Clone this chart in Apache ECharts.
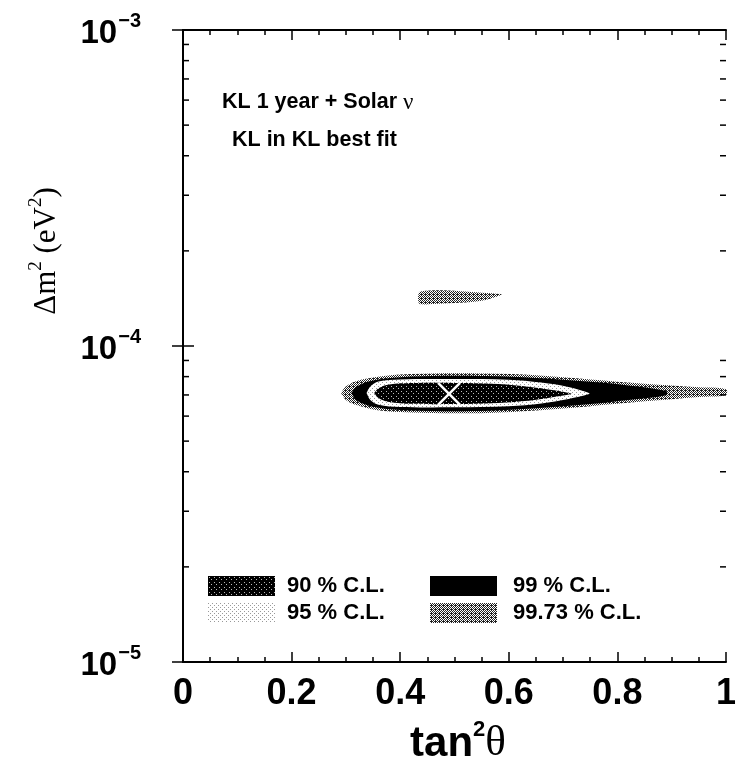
<!DOCTYPE html>
<html>
<head>
<meta charset="utf-8">
<title>KL 1 year + Solar nu</title>
<script src="https://cdn.jsdelivr.net/npm/echarts@6/dist/echarts.min.js"></script>
<style>
  html, body { margin: 0; padding: 0; background: #fff; }
  #chart { width: 739px; height: 767px; }
</style>
</head>
<body>
<div id="chart"></div>
<script>
// tick values
var xTickLabels = ['0', '0.2', '0.4', '0.6', '0.8', '1'];
var yMinorTicks = [2e-5, 3e-5, 4e-5, 5e-5, 6e-5, 7e-5, 8e-5, 9e-5,
                   2e-4, 3e-4, 4e-4, 5e-4, 6e-4, 7e-4, 8e-4, 9e-4];

// contour boundaries : tan^2(theta), upper dm2, lower dm2
var cl9973Tan = [0.291, 0.30, 0.32, 0.35, 0.40, 0.48, 0.56, 0.65, 0.75, 0.85, 0.95, 1.0];
var cl9973Up  = [7.10e-5, 7.45e-5, 7.75e-5, 7.95e-5, 8.12e-5, 8.20e-5, 8.18e-5, 8.08e-5, 7.84e-5, 7.60e-5, 7.40e-5, 7.30e-5];
var cl9973Lo  = [7.10e-5, 6.75e-5, 6.50e-5, 6.30e-5, 6.18e-5, 6.13e-5, 6.14e-5, 6.25e-5, 6.45e-5, 6.68e-5, 6.90e-5, 7.00e-5];

var cl99Tan = [0.31, 0.32, 0.35, 0.40, 0.48, 0.56, 0.65, 0.75, 0.82, 0.89];
var cl99Up  = [7.10e-5, 7.45e-5, 7.78e-5, 7.97e-5, 8.05e-5, 8.03e-5, 7.92e-5, 7.70e-5, 7.50e-5, 7.20e-5];
var cl99Lo  = [7.10e-5, 6.72e-5, 6.42e-5, 6.27e-5, 6.22e-5, 6.24e-5, 6.35e-5, 6.55e-5, 6.75e-5, 6.98e-5];

var cl95Tan = [0.338, 0.345, 0.36, 0.40, 0.50, 0.60, 0.66, 0.71, 0.748];
var cl95Up  = [7.10e-5, 7.45e-5, 7.72e-5, 7.84e-5, 7.86e-5, 7.82e-5, 7.66e-5, 7.42e-5, 7.10e-5];
var cl95Lo  = [7.10e-5, 6.75e-5, 6.52e-5, 6.41e-5, 6.40e-5, 6.45e-5, 6.58e-5, 6.80e-5, 7.05e-5];

var cl90Tan = [0.352, 0.36, 0.38, 0.42, 0.50, 0.58, 0.64, 0.68, 0.715];
var cl90Up  = [7.10e-5, 7.35e-5, 7.55e-5, 7.63e-5, 7.64e-5, 7.58e-5, 7.42e-5, 7.26e-5, 7.08e-5];
var cl90Lo  = [7.10e-5, 6.85e-5, 6.65e-5, 6.56e-5, 6.55e-5, 6.60e-5, 6.72e-5, 6.88e-5, 7.05e-5];

// small 99.73 % island at higher dm2
var islandTan = [0.434, 0.44, 0.47, 0.51, 0.55, 0.586];
var islandUp  = [1.47e-4, 1.49e-4, 1.50e-4, 1.49e-4, 1.475e-4, 1.46e-4];
var islandLo  = [1.37e-4, 1.355e-4, 1.36e-4, 1.37e-4, 1.39e-4, 1.45e-4];

var bestFit = [0.49, 7.05e-5];

var sans = '"Liberation Sans", Arial, Helvetica, sans-serif';
var serif = '"Liberation Serif", "Times New Roman", serif';

// halftone textures like the printed figure
function makePattern(size, bg, fg, dots) {
  var c = document.createElement('canvas');
  c.width = size; c.height = size;
  var ctx = c.getContext('2d');
  ctx.fillStyle = bg;
  ctx.fillRect(0, 0, size, size);
  ctx.fillStyle = fg;
  dots.forEach(function (d) { ctx.fillRect(d[0], d[1], 1, 1); });
  return { image: c, repeat: 'repeat' };
}
var pat90 = makePattern(5, '#000', '#bbb', [[1, 1], [3, 3]]);
var pat95 = makePattern(4, '#fff', '#999', [[0, 0], [2, 2]]);
var pat99 = '#000';
var pat9973 = makePattern(4, '#fff', '#222',
  [[0, 0], [2, 0], [1, 1], [3, 1], [0, 2], [2, 2], [1, 3], [3, 3], [1, 2]]);

function polyItem(tanArr, upArr, loArr, fill) {
  return function (params, api) {
    if (params.dataIndex !== 0) return;
    var pts = [];
    for (var i = 0; i < tanArr.length; i++) pts.push(api.coord([tanArr[i], upArr[i]]));
    for (var j = tanArr.length - 1; j >= 0; j--) pts.push(api.coord([tanArr[j], loArr[j]]));
    return { type: 'polygon', shape: { points: pts, smooth: 0.35 }, style: { fill: fill } };
  };
}

function pairs(tanArr, upArr) {
  return tanArr.map(function (t, i) { return [t, upArr[i]]; });
}

var myChart = echarts.init(document.getElementById('chart'));

var legendText = { fontFamily: sans, fontWeight: 'bold', fontSize: 22, color: '#000' };

var option = {
  backgroundColor: '#fff',
  animation: false,
  grid: { left: 183, right: 9, top: 30, bottom: 105 },
  legend: [
    {
      data: ['90 % C.L.', '95 % C.L.'],
      orient: 'vertical', left: 208, top: 575, padding: 0,
      itemWidth: 67, itemHeight: 20, itemGap: 5, icon: 'rect', selectedMode: false,
      textStyle: Object.assign({ padding: [0, 0, 0, 7] }, legendText)
    },
    {
      data: ['99 % C.L.', '99.73 % C.L.'],
      orient: 'vertical', left: 430, top: 575, padding: 0,
      itemWidth: 67, itemHeight: 20, itemGap: 5, icon: 'rect', selectedMode: false,
      textStyle: Object.assign({ padding: [0, 0, 0, 11] }, legendText)
    }
  ],
  xAxis: [
    {
      type: 'value', min: 0, max: 1, interval: 0.2,
      axisLine: { lineStyle: { color: '#000', width: 2 } },
      axisTick: { inside: true, length: 10, lineStyle: { color: '#000', width: 1.5 } },
      minorTick: { show: true, splitNumber: 4, length: 5, lineStyle: { color: '#000', width: 1.5 } },
      splitLine: { show: false },
      axisLabel: {
        margin: 14, color: '#000', fontFamily: sans, fontWeight: 'bold', fontSize: 36,
        formatter: function (v) { return xTickLabels[Math.round(v * 5)]; }
      }
    },
    {
      type: 'value', min: 0, max: 1, interval: 0.2, position: 'top',
      axisLine: { lineStyle: { color: '#000', width: 2 } },
      axisTick: { inside: true, length: 10, lineStyle: { color: '#000', width: 1.5 } },
      minorTick: { show: true, splitNumber: 4, length: 5, lineStyle: { color: '#000', width: 1.5 } },
      splitLine: { show: false },
      axisLabel: { show: false }
    }
  ],
  yAxis: [
    {
      type: 'log', logBase: 10, min: 1e-5, max: 1e-3,
      axisLine: { lineStyle: { color: '#000', width: 2 } },
      axisTick: { inside: true, length: 11, lineStyle: { color: '#000', width: 1.5 } },
      splitLine: { show: false },
      axisLabel: {
        margin: 42, color: '#000',
        formatter: function (v) {
          return '{b|10}{s|\u2212' + Math.round(-Math.log10(v)) + '}';
        },
        rich: {
          b: { fontFamily: sans, fontWeight: 'bold', fontSize: 33, color: '#000', padding: [8, 0, 0, 0] },
          s: { fontFamily: sans, fontWeight: 'bold', fontSize: 20, color: '#000', padding: [0, 0, 18, 1] }
        }
      }
    },
    {
      type: 'log', logBase: 10, min: 1e-5, max: 1e-3, position: 'right',
      axisLine: { lineStyle: { color: '#000', width: 2 } },
      axisTick: { inside: true, length: 11, lineStyle: { color: '#000', width: 1.5 } },
      splitLine: { show: false },
      axisLabel: { show: false }
    }
  ],
  graphic: [
    {
      type: 'text', left: 222, top: 91,
      style: {
        text: '{a|KL 1 year + Solar }{n|\u03bd}',
        rich: {
          a: { fontFamily: sans, fontWeight: 'bold', fontSize: 21.5, fill: '#000' },
          n: { fontFamily: serif, fontSize: 23, fill: '#000' }
        }
      }
    },
    {
      type: 'text', left: 232, top: 129,
      style: { text: 'KL in KL best fit', fontFamily: sans, fontWeight: 'bold', fontSize: 21.5, fill: '#000' }
    },
    {
      type: 'text', x: 47, y: 251, rotation: Math.PI / 2,
      style: {
        text: '{a|\u0394m}{s|2}{a| (eV}{s|2}{a|)}',
        align: 'center', verticalAlign: 'middle',
        rich: {
          a: { fontFamily: serif, fontSize: 31, fill: '#000' },
          s: { fontFamily: serif, fontSize: 19, fill: '#000', padding: [0, 0, 22, 0] }
        }
      }
    },
    {
      type: 'text', x: 458, y: 744,
      style: {
        text: '{a|tan}{s|2}{t|\u03b8}',
        align: 'center', verticalAlign: 'middle',
        rich: {
          a: { fontFamily: sans, fontWeight: 'bold', fontSize: 42, fill: '#000' },
          s: { fontFamily: sans, fontWeight: 'bold', fontSize: 22, fill: '#000', padding: [0, 0, 28, 0] },
          t: { fontFamily: serif, fontSize: 43, fill: '#000' }
        }
      }
    }
  ],
  series: [
    {
      name: '99.73 % C.L.', type: 'custom', itemStyle: { color: pat9973 },
      data: pairs(cl9973Tan, cl9973Up),
      renderItem: polyItem(cl9973Tan, cl9973Up, cl9973Lo, pat9973), z: 2
    },
    {
      name: '99.73 % C.L.', type: 'custom', itemStyle: { color: pat9973 },
      data: pairs(islandTan, islandUp),
      renderItem: polyItem(islandTan, islandUp, islandLo, pat9973), z: 2
    },
    {
      name: '99 % C.L.', type: 'custom', itemStyle: { color: pat99 },
      data: pairs(cl99Tan, cl99Up),
      renderItem: polyItem(cl99Tan, cl99Up, cl99Lo, pat99), z: 3
    },
    {
      name: '95 % C.L.', type: 'custom', itemStyle: { color: pat95 },
      data: pairs(cl95Tan, cl95Up),
      renderItem: polyItem(cl95Tan, cl95Up, cl95Lo, pat95), z: 4
    },
    {
      name: '90 % C.L.', type: 'custom', itemStyle: { color: pat90 },
      data: pairs(cl90Tan, cl90Up),
      renderItem: polyItem(cl90Tan, cl90Up, cl90Lo, pat90), z: 5
    },
    {
      // best fit cross
      type: 'custom', z: 6, silent: true,
      data: [bestFit],
      renderItem: function (params, api) {
        var p = api.coord([api.value(0), api.value(1)]);
        var h = 11;
        return {
          type: 'group',
          children: [
            { type: 'line', shape: { x1: p[0] - h, y1: p[1] - h, x2: p[0] + h, y2: p[1] + h }, style: { stroke: '#fff', lineWidth: 2.5 } },
            { type: 'line', shape: { x1: p[0] - h, y1: p[1] + h, x2: p[0] + h, y2: p[1] - h }, style: { stroke: '#fff', lineWidth: 2.5 } }
          ]
        };
      }
    },
    {
      // log minor ticks on the left and right frame
      type: 'custom', z: 10, silent: true, clip: false,
      data: yMinorTicks.map(function (v) { return [0, v]; }),
      renderItem: function (params, api) {
        var v = api.value(1);
        var l = api.coord([0, v]);
        var r = api.coord([1, v]);
        return {
          type: 'group',
          children: [
            { type: 'line', shape: { x1: l[0], y1: l[1], x2: l[0] + 6, y2: l[1] }, style: { stroke: '#000', lineWidth: 1.5 } },
            { type: 'line', shape: { x1: r[0], y1: r[1], x2: r[0] - 6, y2: r[1] }, style: { stroke: '#000', lineWidth: 1.5 } }
          ]
        };
      }
    }
  ]
};

myChart.setOption(option);
</script>
</body>
</html>
